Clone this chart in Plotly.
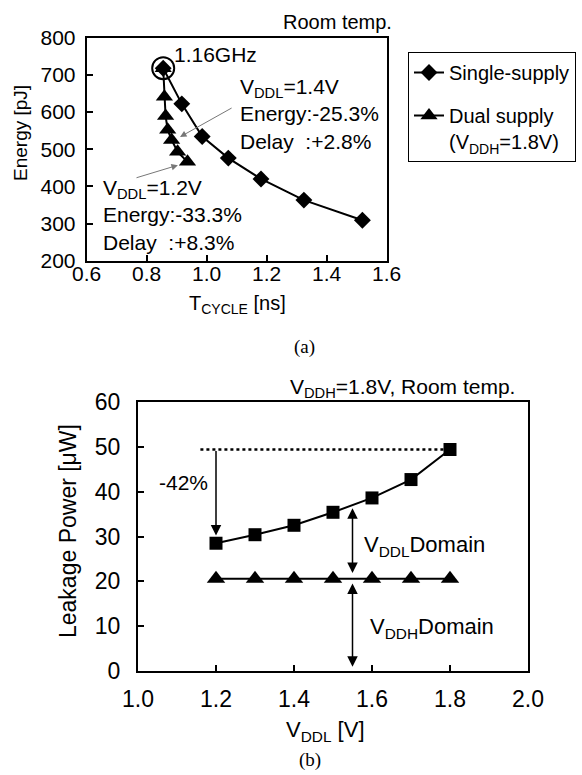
import plotly.graph_objects as go

# ---- Data (a) ----
t_single = [0.855, 0.917, 0.985, 1.072, 1.181, 1.324, 1.519]
e_single = [718, 622, 534, 476, 420, 363, 309]
t_dual = [0.855, 0.859, 0.863, 0.870, 0.883, 0.903, 0.936]
e_dual = [718, 641, 589, 552, 525, 493, 466]

# ---- Data (b) ----
vddl = [1.2, 1.3, 1.4, 1.5, 1.6, 1.7, 1.8]
leak_total = [28.5, 30.4, 32.5, 35.4, 38.6, 42.7, 49.4]
leak_vddh = [20.6, 20.6, 20.6, 20.6, 20.6, 20.6, 20.6]

W, H = 582, 775
FONT = "Liberation Sans, Arial, sans-serif"
SERIF = "Liberation Serif, Times New Roman, serif"

def px(x):
    return x / W

def py(y):
    return 1 - y / H

fig = go.Figure()

fig.add_trace(go.Scatter(x=t_single, y=e_single, mode="lines+markers", name="Single-supply",
                         line=dict(color="black", width=2),
                         marker=dict(symbol="diamond", size=13, color="black"),
                         xaxis="x", yaxis="y", legendgroup="a"))
fig.add_trace(go.Scatter(x=t_dual, y=e_dual, mode="lines+markers",
                         name="Dual supply<br>(V<sub>DDH</sub>=1.8V)",
                         line=dict(color="black", width=2),
                         marker=dict(symbol="triangle-up", size=15, color="black"),
                         xaxis="x", yaxis="y", legendgroup="b"))
fig.add_trace(go.Scatter(x=[t_single[0]], y=[e_single[0]], mode="markers", showlegend=False,
                         marker=dict(symbol="circle-open", size=22, color="black", line=dict(width=2)),
                         xaxis="x", yaxis="y"))

fig.add_trace(go.Scatter(x=vddl, y=leak_total, mode="lines+markers", showlegend=False,
                         line=dict(color="black", width=2),
                         marker=dict(symbol="square", size=13, color="black"),
                         xaxis="x2", yaxis="y2"))
fig.add_trace(go.Scatter(x=vddl, y=leak_vddh, mode="lines+markers", showlegend=False,
                         line=dict(color="black", width=2),
                         marker=dict(symbol="triangle-up", size=16, color="black"),
                         xaxis="x2", yaxis="y2"))

axis_common = dict(showline=True, linecolor="black", linewidth=2, mirror=True,
                   ticks="inside", ticklen=6, tickwidth=2, tickcolor="black",
                   showgrid=False, zeroline=False, automargin=False)

fig.update_layout(
    width=W, height=H, margin=dict(l=0, r=0, t=0, b=0, autoexpand=False),
    paper_bgcolor="white", plot_bgcolor="white",
    font=dict(family=FONT, color="black"),
    xaxis=dict(domain=[px(86.7), px(386.7)], anchor="y", range=[0.6, 1.6], dtick=0.2,
               tickformat=".1f", tickfont=dict(size=21), ticklabelstandoff=-7, **axis_common),
    yaxis=dict(domain=[py(260.7), py(37.7)], anchor="x", range=[200, 800], dtick=100,
               tickfont=dict(size=21), ticklabelstandoff=5, **axis_common),
    xaxis2=dict(domain=[px(138), px(528)], anchor="y2", range=[1.0, 2.0], dtick=0.2,
                tickformat=".1f", tickfont=dict(size=23), ticklabelstandoff=6, **axis_common),
    yaxis2=dict(domain=[py(671), py(402)], anchor="x2", range=[0, 60], dtick=10,
                tickfont=dict(size=23), ticklabelstandoff=11, **axis_common),
    legend=dict(x=px(408), y=py(52), xanchor="left", yanchor="top",
                bordercolor="black", borderwidth=1, bgcolor="white",
                font=dict(size=20, family=FONT), valign="top",
                traceorder="grouped", tracegroupgap=14, itemwidth=30),
    showlegend=True,
)

# dotted reference line at the 1.8V leakage level
fig.add_shape(type="line", xref="x2", yref="y2", x0=1.16, x1=vddl[-1],
              y0=leak_total[-1], y1=leak_total[-1],
              line=dict(color="black", width=2.5, dash="dot"))

ann = []
def text(t, x, y, size, xref="paper", yref="paper", xa="center", ya="middle", **kw):
    d = dict(text=t, xref=xref, yref=yref, x=x, y=y, xanchor=xa, yanchor=ya,
             showarrow=False, font=dict(size=size, family=kw.pop("family", FONT)))
    d.update(kw)
    ann.append(d)

# panel (a) texts
text("Room temp.", px(394), py(22), 20, xa="right")
text("1.16GHz", px(172), py(55), 21, xa="left")
text("V<sub>DDL</sub>=1.4V<br>Energy:-25.3%<br>Delay\u00a0 :+2.8%", px(238), py(114), 21,
     xa="left", align="left")
text("V<sub>DDL</sub>=1.2V<br>Energy:-33.3%<br>Delay\u00a0 :+8.3%", px(101), py(215), 21,
     xa="left", align="left")
ann.append(dict(text="", xref="x", yref="y", x=0.911, y=533, axref="x", ayref="y",
                ax=1.088, ay=613, showarrow=True, arrowhead=2, arrowsize=1.3,
                arrowwidth=1, arrowcolor="#777777"))
ann.append(dict(text="", xref="x", yref="y", x=0.904, y=457, axref="x", ayref="y",
                ax=0.761, ay=422, showarrow=True, arrowhead=2, arrowsize=1.3,
                arrowwidth=1, arrowcolor="#777777"))
text("Energy [pJ]", px(20), py(133), 19, textangle=-90)
text("T<sub>CYCLE</sub> [ns]", px(237), py(304), 20)
text("(a)", px(304), py(347), 19, family=SERIF)

# panel (b) texts
text("V<sub>DDH</sub>=1.8V, Room temp.", px(517), py(388), 21, xa="right")
text("-42%", 1.117, 42.1, 21, xref="x2", yref="y2")
ann.append(dict(text="", xref="x2", yref="y2", x=1.2, y=30.2, axref="x2", ayref="y2",
                ax=1.2, ay=leak_total[-1], showarrow=True, arrowhead=2, arrowsize=1.4,
                arrowwidth=1.5, arrowcolor="black"))
ann.append(dict(text="", xref="x2", yref="y2", x=1.55, y=36.3, axref="x2", ayref="y2",
                ax=1.55, ay=21.5, showarrow=True, arrowhead=2, startarrowhead=2,
                arrowside="end+start", arrowsize=1.4, startarrowsize=1.4,
                arrowwidth=1.5, arrowcolor="black"))
ann.append(dict(text="", xref="x2", yref="y2", x=1.55, y=19.5, axref="x2", ayref="y2",
                ax=1.55, ay=0.6, showarrow=True, arrowhead=2, startarrowhead=2,
                arrowside="end+start", arrowsize=1.4, startarrowsize=1.4,
                arrowwidth=1.5, arrowcolor="black"))
text("V<sub>DDL</sub>Domain", 1.575, 27.8, 22, xref="x2", yref="y2", xa="left")
text("V<sub>DDH</sub>Domain", 1.59, 9.7, 22, xref="x2", yref="y2", xa="left")
text("Leakage Power [\u03bcW]", px(68), py(531), 23, textangle=-90)
text("V<sub>DDL</sub> [V]", px(325), py(731), 22)
text("(b)", px(310), py(760), 19, family=SERIF)

fig.update_layout(annotations=ann)
fig.write_html("out.html")
